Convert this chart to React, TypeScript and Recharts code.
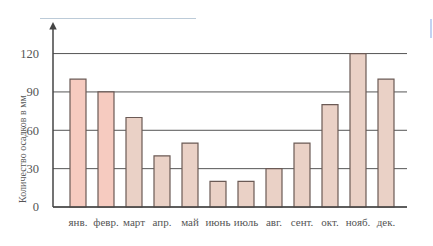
import React from 'react';
import { BarChart, Bar, XAxis, YAxis, CartesianGrid, Cell, Label } from 'recharts';

const months = ['янв.', 'февр.', 'март', 'апр.', 'май', 'июнь', 'июль', 'авг.', 'сент.', 'окт.', 'нояб.', 'дек.'];
const precipitation = [100, 90, 70, 40, 50, 20, 20, 30, 50, 80, 120, 100];
const fills = ['#f6cbc0', '#f6cbc0', '#ead1c6', '#ead1c6', '#ead1c6', '#ead1c6', '#ead1c6', '#ead1c6', '#ead1c6', '#ead1c6', '#ead1c6', '#ead1c6'];
const yTicks = [0, 30, 60, 90, 120];
const yMax = 140;

const data = months.map((m, i) => ({ month: m, value: precipitation[i] }));

const serif = '"Liberation Serif", "DejaVu Serif", serif';

const gridGen = (args: any) => {
  const off = args.offset || {};
  const top = off.top ?? 28;
  const h = off.height ?? 179;
  return yTicks.map((t) => top + h * (1 - t / yMax));
};

export default function App() {
  return (
    <div style={{ position: 'absolute', left: 0, top: 0, width: 433, height: 246, background: '#fff' }}>
      <svg width="0" height="0" style={{ position: 'absolute' }}>
        <defs>
          <marker id="arrowUp" viewBox="0 0 10 10" refX="2" refY="5" markerWidth="5" markerHeight="5" orient="auto-start-reverse">
            <path d="M0,0 L10,5 L0,10 Z" fill="#444" />
          </marker>
        </defs>
      </svg>
      <div style={{ position: 'absolute', left: 40, top: 18, width: 156, height: 1, background: '#bccbd8' }} />
      <div style={{ position: 'absolute', left: 430, top: 19, width: 2, height: 19, background: '#c3d3f2' }} />
      <BarChart width={433} height={246} data={data} margin={{ top: 28, right: 26, left: 0, bottom: 0 }} barSize={16}>
        <CartesianGrid
          vertical={false}
          stroke="#555"
          strokeWidth={1}
          horizontalCoordinatesGenerator={gridGen}
        />
        <XAxis
          dataKey="month"
          height={39}
          padding={{ left: 11, right: 7 }}
          tickLine={false}
          axisLine={{ stroke: '#444', strokeWidth: 1.5 }}
          tick={{ fontFamily: serif, fontSize: 11, fill: '#555' }}
          tickMargin={5}
          interval={0}
        />
        <YAxis
          width={53}
          domain={[0, yMax]}
          ticks={yTicks}
          tickLine={false}
          axisLine={{ stroke: '#444', strokeWidth: 1.5, markerStart: 'url(#arrowUp)' }}
          tick={{ fontFamily: serif, fontSize: 12.5, fill: '#555' }}
          tickMargin={8}
        >
          <Label
            content={() => (
              <text
                transform="translate(22,149) rotate(-90)"
                textAnchor="middle"
                dominantBaseline="central"
                fontFamily={serif}
                fontSize={10}
                fill="#555"
              >
                Количество осадков в мм
              </text>
            )}
          />
        </YAxis>
        <Bar dataKey="value" stroke="#6b5a55" strokeWidth={1.2} isAnimationActive={false}>
          {data.map((d, i) => (
            <Cell key={d.month} fill={fills[i]} />
          ))}
        </Bar>
      </BarChart>
    </div>
  );
}
